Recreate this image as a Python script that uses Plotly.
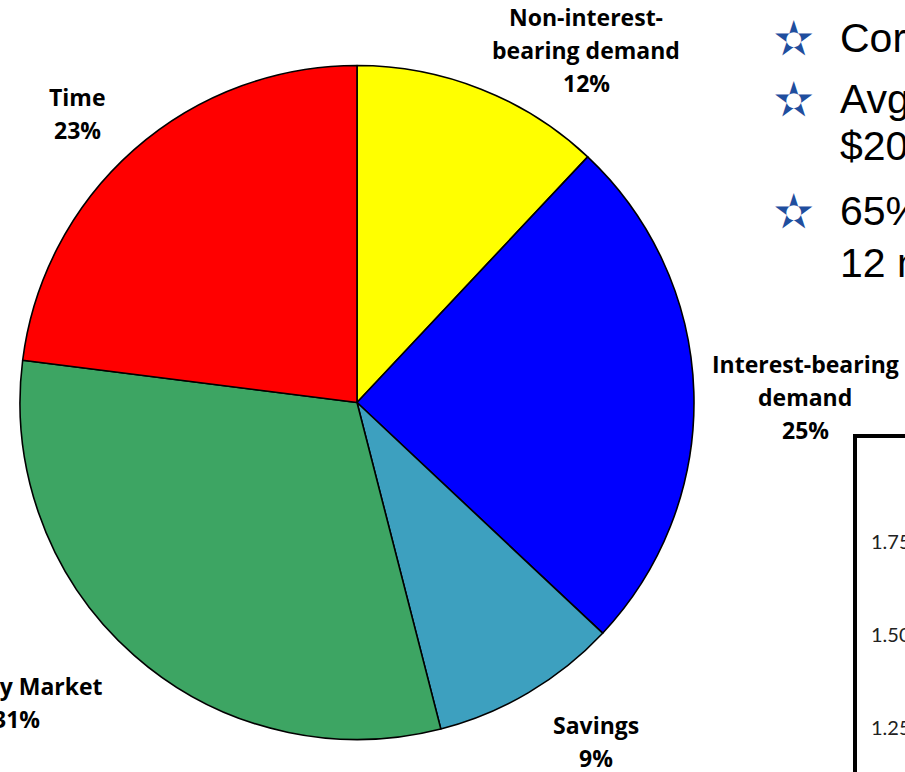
import plotly.graph_objects as go

# Deposit mix, clockwise from 12 o'clock
categories = ["Non-interest-bearing demand", "Interest-bearing demand", "Savings",
              "Money Market", "Time"]
label_lines = [["Non-interest-", "bearing demand"], ["Interest-bearing", "demand"],
               ["Savings"], ["Money Market"], ["Time"]]
shares = [12, 25, 9, 31, 23]
colors = ["#FFFF00", "#0000FF", "#3DA0BF", "#3DA563", "#FF0000"]

# Bullet lines beside the pie
bullet_lines = ["Cor", "Avg", "$20", "65%", "12 m"]
bullet_has_star = [True, True, False, True, False]

# Tick labels of the neighbouring chart frame
side_ticks = [1.25, 1.50, 1.75]

W, H = 905, 772


def px(x):
    return x / W


def py(y):
    return 1 - y / H


fig = go.Figure()

cx, cy, r = 357, 402.5, 337
fig.add_trace(go.Pie(
    labels=categories, values=shares, sort=False, direction="clockwise",
    rotation=0, textinfo="none", hoverinfo="label+percent",
    marker=dict(colors=colors, line=dict(color="black", width=1.6)),
    domain=dict(x=[px(cx - r), px(cx + r)], y=[py(cy + r), py(cy - r)]),
    showlegend=False,
))

# empty trace so the side axes are drawn
fig.add_trace(go.Scatter(x=[], y=[], xaxis="x2", yaxis="y2", showlegend=False))

label_font = dict(family="Open Sans", size=23, color="black", weight="bold")

# (anchor x, first baseline, x anchor) for each slice label
label_pos = [(586, 25, "center"), (805, 372, "center"), (596, 733, "center"),
             (105, 694, "right"), (77, 105, "center")]
pct_x = [586, 803, 594, 42, 77]
line_gap = 33

annotations = []
for lines, val, (lx, base, anc), ppx in zip(label_lines, shares, label_pos, pct_x):
    texts = [(t, lx, anc) for t in lines] + [(f"{val}%", ppx if anc == "right" else lx, anc)]
    for i, (t, x, a) in enumerate(texts):
        yb = base + i * line_gap
        annotations.append(dict(
            text=f"<b>{t}</b>", x=px(x), y=py(yb - 0.35 * label_font["size"]),
            xref="paper", yref="paper", xanchor=a, yanchor="middle",
            showarrow=False, font=label_font,
        ))

# bullet text on the right
bullet_base = [52, 113, 160, 225, 277]
bfs = 41
for t, star, b in zip(bullet_lines, bullet_has_star, bullet_base):
    yc = b - 0.35 * bfs
    annotations.append(dict(
        text=t, x=px(838), y=py(yc), xref="paper", yref="paper",
        xanchor="left", yanchor="middle", showarrow=False,
        font=dict(family="Liberation Sans", size=bfs, color="black"),
    ))
    if star:
        annotations.append(dict(
            text="✫", x=px(793.5), y=py(yc + 1), xref="paper", yref="paper",
            xanchor="center", yanchor="middle", showarrow=False,
            font=dict(family="DejaVu Sans", size=47, color="#1F4E9E"),
        ))

# frame of the neighbouring chart
shapes = [dict(type="rect", xref="paper", yref="paper",
               x0=px(855), x1=px(960), y0=-0.2, y1=py(436),
               line=dict(color="black", width=4), fillcolor="rgba(0,0,0,0)")]

fig.update_layout(
    width=W, height=H, autosize=False,
    margin=dict(l=0, r=0, t=0, b=0, pad=0),
    paper_bgcolor="white", plot_bgcolor="rgba(0,0,0,0)",
    annotations=annotations, shapes=shapes,
    xaxis=dict(visible=False),
    yaxis=dict(visible=False),
    xaxis2=dict(domain=[px(868), 1.0], anchor="y2", visible=False, range=[0, 1]),
    yaxis2=dict(domain=[0, py(436)], anchor="x2", range=[1.133, 2.033],
                tickvals=side_ticks, ticktext=[f"{v:.2f}" for v in side_ticks],
                ticklabelposition="inside", ticks="", showline=False,
                showgrid=False, zeroline=False,
                tickfont=dict(family="Lato", size=20, color="#222222")),
)

fig.write_html("out.html")
